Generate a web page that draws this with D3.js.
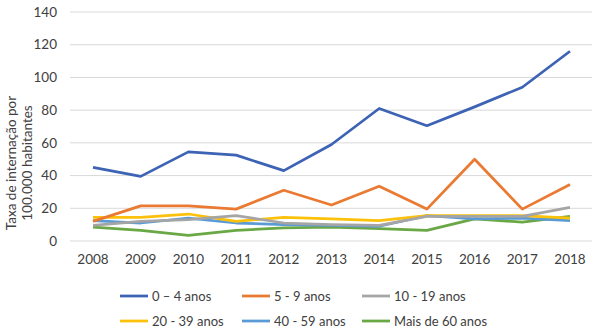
<!DOCTYPE html>
<html>
<head>
<meta charset="utf-8">
<script src="https://cdn.jsdelivr.net/npm/d3@7"></script>
<style>
  body { margin: 0; background: #fff; }
  svg text { font-family: Lato, "Open Sans", sans-serif; fill: #404040; }
</style>
</head>
<body>
<div id="chart"></div>
<script>
// anos e taxas por faixa etária
let years = [2008, 2009, 2010, 2011, 2012, 2013, 2014, 2015, 2016, 2017, 2018];
let ages0to4 = [45, 39.5, 54.5, 52.5, 43, 59, 81, 70.5, 82, 94, 116];
let ages5to9 = [12, 21.5, 21.5, 19.5, 31, 22, 33.5, 19.5, 50, 19.5, 34.5];
let ages10to19 = [9.5, 12, 13, 15.5, 11, 10, 9.5, 15, 15, 15, 20.5];
let ages20to39 = [14.5, 14.5, 16.5, 12, 14.5, 13.5, 12.5, 15.5, 15.5, 15.5, 14];
let ages40to59 = [12.5, 11, 14, 11, 10, 9.5, 9, 15.5, 13.5, 14, 12.5];
let ages60plus = [8.5, 6.5, 3.5, 6.5, 8, 8.5, 7.5, 6.5, 13.5, 11.5, 15];
let yTicks = [0, 20, 40, 60, 80, 100, 120, 140];

let series = [
    {name: "0 \u2013 4 anos", values: ages0to4, color: "#3d63b4"},
    {name: "5 - 9 anos", values: ages5to9, color: "#ea7a32"},
    {name: "10 - 19 anos", values: ages10to19, color: "#a5a5a5"},
    {name: "20 - 39 anos", values: ages20to39, color: "#fcc10a"},
    {name: "40 - 59 anos", values: ages40to59, color: "#5b9bd5"},
    {name: "Mais de 60 anos", values: ages60plus, color: "#6aa845"}
];

let width = 600
let height = 333

let svg = d3.select("#chart").append("svg")
    .attr("width", width)
    .attr("height", height);

let x = d3.scalePoint()
    .domain(years)
    .range([93, 570]);

let y = d3.scaleLinear()
    .domain([0, 140])
    .range([241, 12]);

// linhas de grade
svg.append("g")
    .selectAll("line")
    .data(yTicks)
    .enter().append("line")
    .attr("x1", 70)
    .attr("x2", 592)
    .attr("y1", d => y(d))
    .attr("y2", d => y(d))
    .attr("stroke", "#d9d9d9")
    .attr("stroke-width", 1);

// rótulos do eixo y
svg.append("g")
    .selectAll("text")
    .data(yTicks)
    .enter().append("text")
    .attr("x", 57)
    .attr("y", d => y(d))
    .attr("dy", "0.35em")
    .attr("text-anchor", "end")
    .style("font-size", "13.5px")
    .text(d => d);

// rótulos do eixo x
svg.append("g")
    .selectAll("text")
    .data(years)
    .enter().append("text")
    .attr("x", d => x(d))
    .attr("y", 259)
    .attr("dy", "0.35em")
    .attr("text-anchor", "middle")
    .style("font-size", "13.5px")
    .text(d => d);

// título do eixo y
let title = svg.append("text")
    .attr("transform", "translate(18,163) rotate(-90)")
    .attr("text-anchor", "middle")
    .style("font-size", "13.5px");
title.append("tspan").attr("x", 0).attr("dy", "-0.15em").text("Taxa de internação por");
title.append("tspan").attr("x", 0).attr("dy", "1.15em").text("100.000 habitantes");

let line = d3.line()
    .x((d, i) => x(years[i]))
    .y(d => y(d));

// as linhas são desenhadas em ordem inversa para o azul ficar por cima
svg.append("g")
    .selectAll("path")
    .data(series.slice().reverse())
    .enter().append("path")
    .attr("d", d => line(d.values))
    .attr("fill", "none")
    .attr("stroke", d => d.color)
    .attr("stroke-width", 2.75)
    .attr("stroke-linejoin", "round");

// legenda
let legendX = [120, 242, 362];
let legendY = [296, 321];
let legend = svg.append("g")
    .selectAll("g")
    .data(series)
    .enter().append("g")
    .attr("transform", (d, i) => "translate(" + legendX[i % 3] + "," + legendY[Math.floor(i / 3)] + ")");

legend.append("line")
    .attr("x1", 0)
    .attr("x2", 28)
    .attr("stroke", d => d.color)
    .attr("stroke-width", 2.75);

legend.append("text")
    .attr("x", 32)
    .attr("dy", "0.35em")
    .style("font-size", "13px")
    .text(d => d.name);
</script>
</body>
</html>
